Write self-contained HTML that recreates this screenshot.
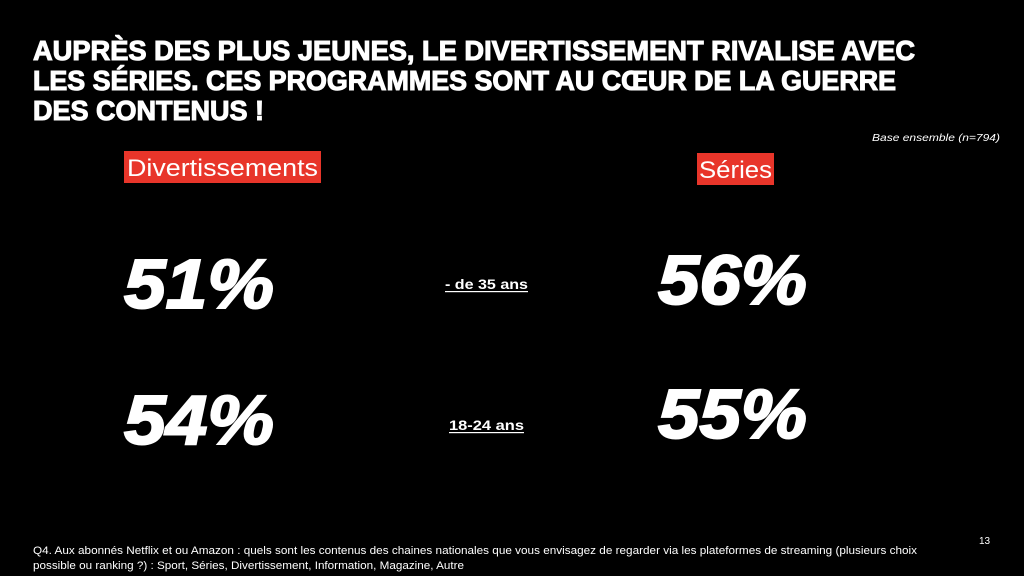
<!DOCTYPE html>
<html><head><meta charset="utf-8"><style>
html,body{margin:0;padding:0;background:#000;}
body{width:1024px;height:576px;overflow:hidden;position:relative;font-family:"Liberation Sans",sans-serif;color:#fff;}
</style></head><body>
<svg width="1024" height="576" xmlns="http://www.w3.org/2000/svg" style="position:absolute;left:0;top:0">
<g font-family="Liberation Sans, sans-serif" fill="#fff" stroke="#fff" stroke-width="1.1" font-weight="bold">
<text x="33" y="60" font-size="28" textLength="882" lengthAdjust="spacingAndGlyphs">AUPRÈS DES PLUS JEUNES, LE DIVERTISSEMENT RIVALISE AVEC</text>
<text x="33" y="90" font-size="28" textLength="863" lengthAdjust="spacingAndGlyphs">LES SÉRIES. CES PROGRAMMES SONT AU CŒUR DE LA GUERRE</text>
<text x="33" y="120" font-size="28" textLength="231" lengthAdjust="spacingAndGlyphs">DES CONTENUS !</text>
</g>
<text x="872" y="141" font-size="10.5" font-style="italic" fill="#fff" textLength="128" lengthAdjust="spacingAndGlyphs" font-family="Liberation Sans, sans-serif">Base ensemble  (n=794)</text>
<rect x="124" y="151" width="197" height="32" fill="#e8352a"/>
<text x="127" y="176" font-size="24" fill="#fff" textLength="191" lengthAdjust="spacingAndGlyphs" font-family="Liberation Sans, sans-serif">Divertissements</text>
<rect x="697" y="153" width="77" height="32" fill="#e8352a"/>
<text x="699" y="178" font-size="24" fill="#fff" textLength="73" lengthAdjust="spacingAndGlyphs" font-family="Liberation Sans, sans-serif">Séries</text>
<g font-family="Liberation Sans, sans-serif" fill="#fff" stroke="#fff" stroke-width="2" font-weight="bold" font-style="italic" font-size="70">
<text x="124" y="308" textLength="150" lengthAdjust="spacingAndGlyphs">51%</text>
<text x="658" y="304" textLength="149" lengthAdjust="spacingAndGlyphs">56%</text>
<text x="124" y="444" textLength="150" lengthAdjust="spacingAndGlyphs">54%</text>
<text x="658" y="438" textLength="149" lengthAdjust="spacingAndGlyphs">55%</text>
</g>
<g font-family="Liberation Sans, sans-serif" fill="#fff" font-weight="bold" font-size="14">
<text x="445" y="289" textLength="83" lengthAdjust="spacingAndGlyphs">- de 35 ans</text>
<rect x="445" y="291" width="83" height="1.2"/>
<text x="449" y="430" textLength="75" lengthAdjust="spacingAndGlyphs">18-24 ans</text>
<rect x="449" y="432" width="75" height="1.2"/>
</g>
<text x="979" y="544" font-size="10" fill="#fff" font-family="Liberation Sans, sans-serif">13</text>
<g font-family="Liberation Sans, sans-serif" fill="#fff" font-size="11">
<text x="33" y="554" textLength="884" lengthAdjust="spacingAndGlyphs">Q4. Aux abonnés Netflix et ou Amazon : quels sont les contenus des chaines nationales que vous envisagez de regarder via les plateformes de streaming (plusieurs choix</text>
<text x="33" y="569" textLength="431" lengthAdjust="spacingAndGlyphs">possible ou ranking ?) : Sport, Séries, Divertissement, Information, Magazine, Autre</text>
</g>
</svg>
</body></html>
